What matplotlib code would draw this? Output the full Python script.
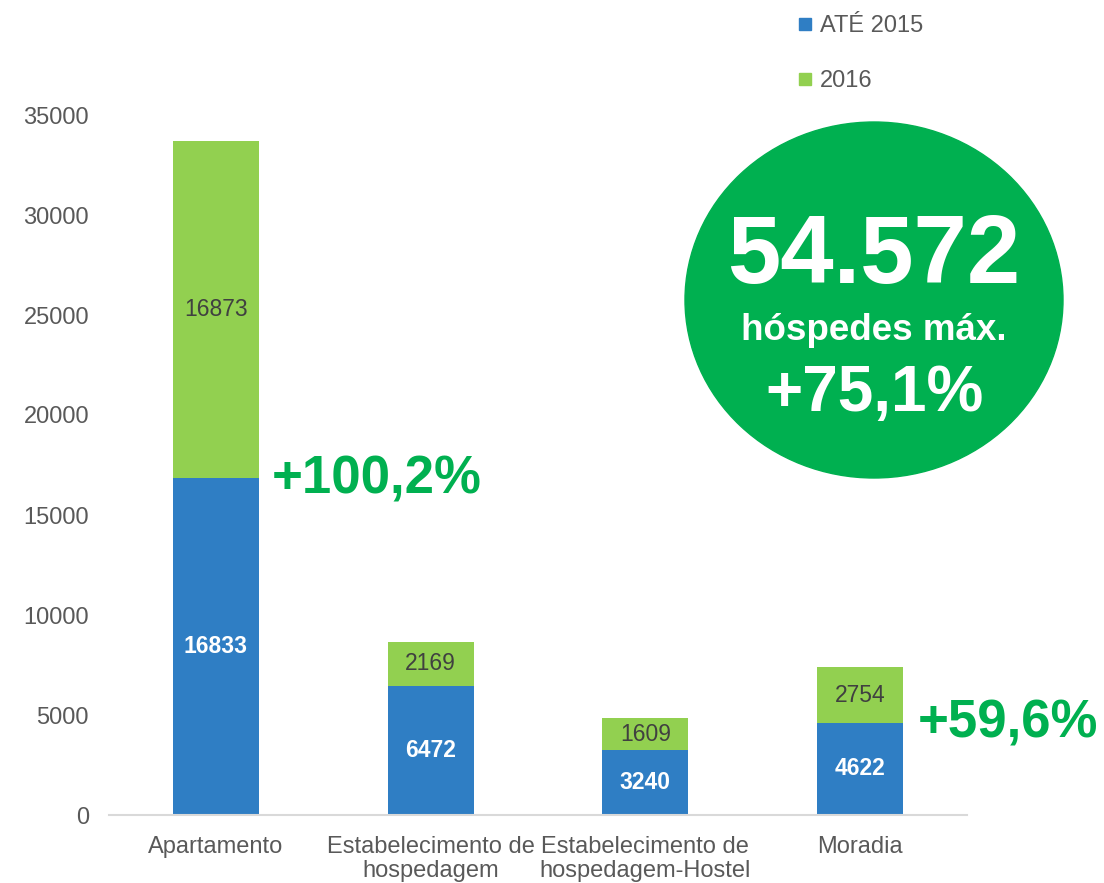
import matplotlib
matplotlib.use("Agg")
import matplotlib.pyplot as plt
from matplotlib.patches import Ellipse
from matplotlib.lines import Line2D

plt.rcParams['font.family'] = ['Liberation Sans', 'DejaVu Sans']

# data
categories = ['Apartamento', 'Estabelecimento de\nhospedagem',
              'Estabelecimento de\nhospedagem-Hostel', 'Moradia']
ate_2015 = [16833, 6472, 3240, 4622]
ano_2016 = [16873, 2169, 1609, 2754]
series_labels = ['ATÉ 2015', '2016']
yticks = [0, 5000, 10000, 15000, 20000, 25000, 30000, 35000]

blue = '#2F7EC4'
lightgreen = '#92D050'
green = '#00B050'
gray = '#595959'

fig = plt.figure(figsize=(11.04, 8.83), dpi=100)
ax = fig.add_axes([108.5 / 1104, 1 - 815 / 883, (967.5 - 108.5) / 1104, 700 / 883])

x = list(range(len(categories)))
ax.bar(x, ate_2015, width=0.4, color=blue)
ax.bar(x, ano_2016, width=0.4, bottom=ate_2015, color=lightgreen)

# data labels
for i in x:
    ax.text(i, ate_2015[i] / 2, str(ate_2015[i]), ha='center', va='center',
            color='white', fontsize=16.5, fontweight='bold')
    ax.text(i, ate_2015[i] + ano_2016[i] / 2, str(ano_2016[i]), ha='center', va='center',
            color='#404040', fontsize=16.5)

ax.set_xlim(-0.5, 3.5)
ax.set_ylim(0, 35000)
ax.set_yticks(yticks)
ax.set_yticklabels([str(v) for v in yticks])
ax.set_xticks(x)
ax.set_xticklabels(categories, linespacing=1.14)
ax.tick_params(axis='both', length=0, labelsize=17, labelcolor=gray)
ax.tick_params(axis='y', pad=14)
ax.tick_params(axis='x', pad=15)
for s in ['top', 'right', 'left']:
    ax.spines[s].set_visible(False)
ax.spines['bottom'].set_color('#D9D9D9')
ax.spines['bottom'].set_linewidth(1.5)

# legend
handles = [Line2D([], [], marker='s', linestyle='', markersize=8, color=blue),
           Line2D([], [], marker='s', linestyle='', markersize=8, color=lightgreen)]
leg = fig.legend(handles, series_labels, loc='upper left', bbox_to_anchor=(777 / 1104, 1.007),
                 frameon=False, fontsize=17, labelcolor=gray, handlelength=0.6,
                 handletextpad=0.3, labelspacing=1.4)

# growth annotations
fig.text(377 / 1104, 1 - 493 / 883, '+100,2%', ha='center', va='baseline',
         color=green, fontsize=38, fontweight='bold')
fig.text(1008 / 1104, 1 - 737 / 883, '+59,6%', ha='center', va='baseline',
         color=green, fontsize=38, fontweight='bold')

# highlight circle
cx, cy = 874 / 1104, 1 - 300 / 883
fig.patches.append(Ellipse((cx, cy), 378 / 1104, 356 / 883, transform=fig.transFigure,
                           color=green, zorder=0))
fig.text(cx, 1 - 283 / 883, '54.572', ha='center', va='baseline',
         color='white', fontsize=69, fontweight='bold')
fig.text(cx, 1 - 340 / 883, 'hóspedes máx.', ha='center', va='baseline',
         color='white', fontsize=26.5, fontweight='bold')
fig.text(cx, 1 - 411 / 883, '+75,1%', ha='center', va='baseline',
         color='white', fontsize=46, fontweight='bold')

plt.savefig('out.png', dpi=100)
plt.close()
